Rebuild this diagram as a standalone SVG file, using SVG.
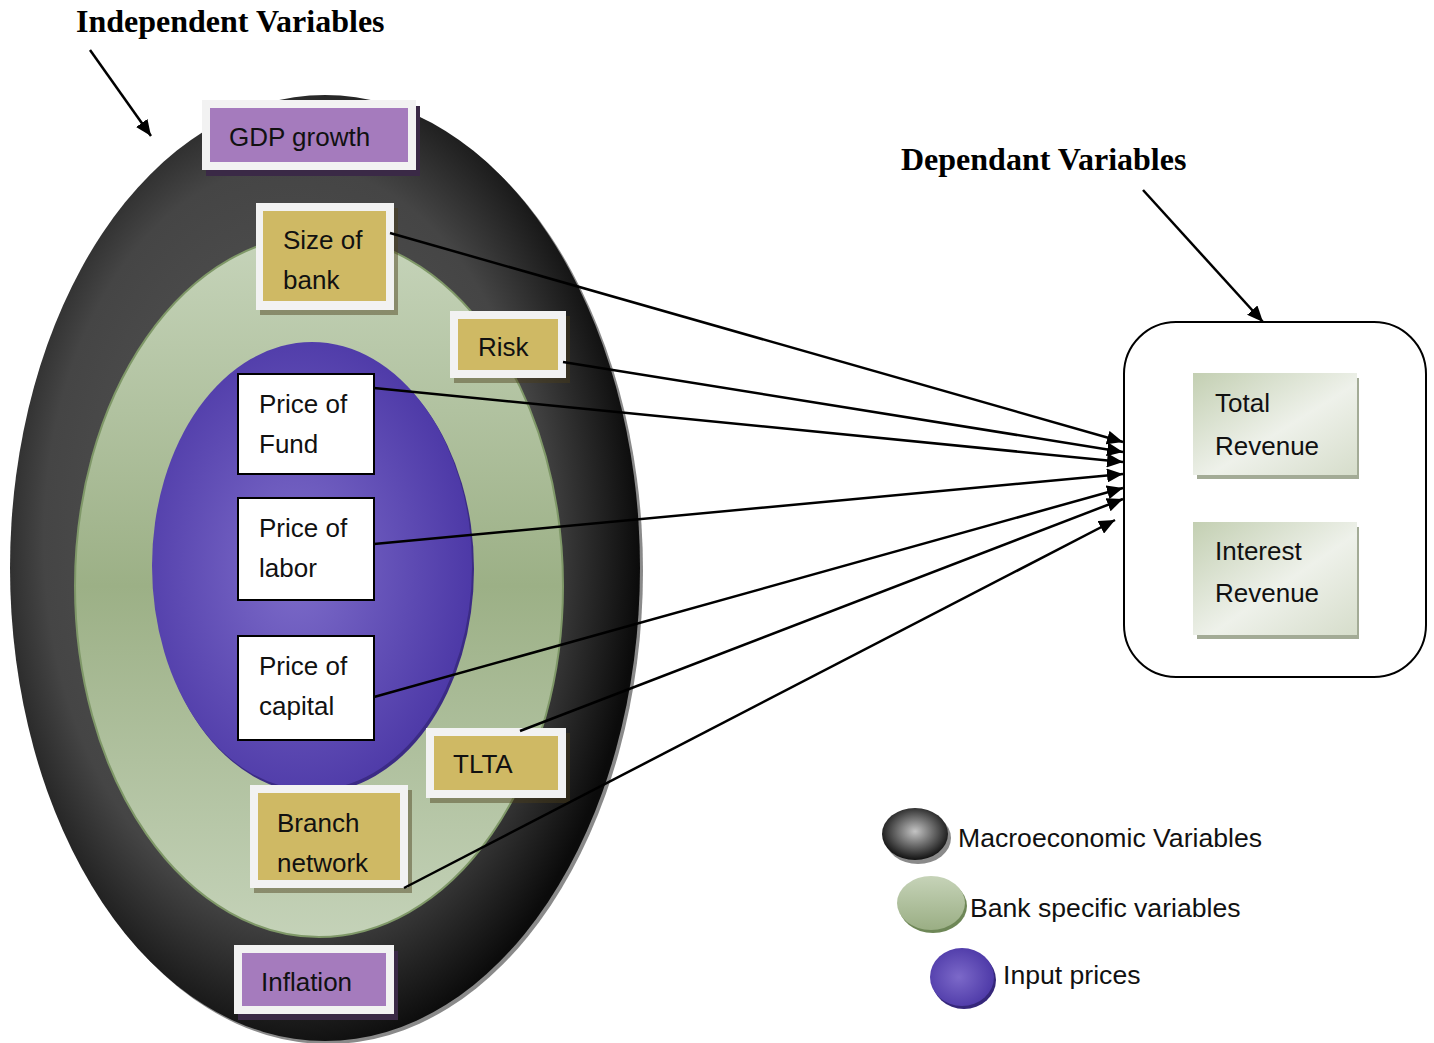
<svg xmlns="http://www.w3.org/2000/svg" width="1434" height="1043" viewBox="0 0 1434 1043">
<defs>
<radialGradient id="gOuter" cx="0.45" cy="0.47" r="0.55">
<stop offset="0" stop-color="#5a5a5a"/>
<stop offset="0.72" stop-color="#454545"/>
<stop offset="1" stop-color="#0b0b0b"/>
</radialGradient>
<linearGradient id="gGreen" x1="0" y1="0" x2="0" y2="1">
<stop offset="0" stop-color="#c6d4ba"/>
<stop offset="0.5" stop-color="#9cb086"/>
<stop offset="1" stop-color="#c4d2b8"/>
</linearGradient>
<radialGradient id="gPurple" cx="0.45" cy="0.5" r="0.55">
<stop offset="0" stop-color="#7e6dca"/>
<stop offset="1" stop-color="#4d39a7"/>
</radialGradient>
<linearGradient id="gRev" x1="0" y1="0" x2="1" y2="1">
<stop offset="0" stop-color="#c3cfb2"/>
<stop offset="0.55" stop-color="#eef1ea"/>
<stop offset="1" stop-color="#d6ddcb"/>
</linearGradient>
<radialGradient id="gLegDark" cx="0.5" cy="0.45" r="0.55">
<stop offset="0" stop-color="#c4c4c4"/>
<stop offset="1" stop-color="#111"/>
</radialGradient>
<linearGradient id="gLegGreen" x1="0" y1="0" x2="0" y2="1">
<stop offset="0" stop-color="#c6d3b8"/>
<stop offset="1" stop-color="#9aae84"/>
</linearGradient>
<radialGradient id="gLegPurple" cx="0.45" cy="0.5" r="0.55">
<stop offset="0" stop-color="#7c69c9"/>
<stop offset="1" stop-color="#4e3aa8"/>
</radialGradient>
<marker id="ah" markerUnits="userSpaceOnUse" markerWidth="17" markerHeight="14" refX="16" refY="7" orient="auto">
<path d="M0,0 L16,7 L0,14 z" fill="#000"/>
</marker>
<style>
.t{font-family:"Liberation Sans",Arial,sans-serif;font-size:26px;fill:#111}
.lg{font-size:26.6px}
.h{font-family:"Liberation Serif","Times New Roman",serif;font-weight:bold;font-size:32px;fill:#000}
.frame{fill:#f2f2f2}
.gold{fill:#cfb964}
.violet{fill:#a57bbd}
.gsh{fill:#4a3c18;opacity:0.45}
.vsh{fill:#3a2946}
.price{fill:#fff;stroke:#000;stroke-width:2}
.rev{fill:url(#gRev)}
.revsh{fill:#a3ab96}
.con{stroke:#000;stroke-width:2.5;fill:none;marker-end:url(#ah)}
</style>
</defs>

<g id="titles">
<text class="h" x="76" y="32">Independent Variables</text>
<text class="h" x="901" y="170">Dependant Variables</text>
</g>

<g id="macro-ellipse">
<ellipse cx="328" cy="571" rx="315" ry="473" fill="#8a8a8a"/>
<ellipse cx="325" cy="568" rx="315" ry="473" fill="url(#gOuter)"/>
</g>
<g id="bank-ellipse">
<ellipse cx="319" cy="586" rx="244" ry="351" fill="url(#gGreen)" stroke="#7f9868" stroke-width="2"/>
</g>
<g id="input-ellipse">
<ellipse cx="314" cy="569" rx="160" ry="224" fill="#3b2b85"/>
<ellipse cx="312" cy="566" rx="160" ry="224" fill="url(#gPurple)"/>
</g>

<g id="gdp">
<rect class="vsh" x="206" y="106" width="214" height="70"/>
<rect class="frame" x="202" y="100" width="214" height="70"/>
<rect class="violet" x="210" y="108" width="198" height="54"/>
<text class="t" x="229" y="146">GDP growth</text>
</g>
<g id="size">
<rect class="gsh" x="260" y="208" width="138" height="107"/>
<rect class="frame" x="256" y="203" width="138" height="107"/>
<rect class="gold" x="263" y="211" width="123" height="90"/>
<text class="t" x="283" y="249">Size of</text>
<text class="t" x="283" y="289">bank</text>
</g>
<g id="risk">
<rect class="gsh" x="454" y="316" width="116" height="67"/>
<rect class="frame" x="450" y="311" width="116" height="67"/>
<rect class="gold" x="458" y="319" width="100" height="51"/>
<text class="t" x="478" y="356">Risk</text>
</g>
<g id="fund">
<rect class="price" x="238" y="374" width="136" height="100"/>
<text class="t" x="259" y="413">Price of</text>
<text class="t" x="259" y="453">Fund</text>
</g>
<g id="labor">
<rect class="price" x="238" y="498" width="136" height="102"/>
<text class="t" x="259" y="537">Price of</text>
<text class="t" x="259" y="577">labor</text>
</g>
<g id="capital">
<rect class="price" x="238" y="636" width="136" height="104"/>
<text class="t" x="259" y="675">Price of</text>
<text class="t" x="259" y="715">capital</text>
</g>
<g id="tlta">
<rect class="gsh" x="430" y="733" width="140" height="70"/>
<rect class="frame" x="426" y="728" width="140" height="70"/>
<rect class="gold" x="434" y="736" width="124" height="54"/>
<text class="t" x="453" y="773">TLTA</text>
</g>
<g id="branch">
<rect class="gsh" x="254" y="790" width="158" height="103"/>
<rect class="frame" x="250" y="785" width="158" height="103"/>
<rect class="gold" x="258" y="793" width="142" height="87"/>
<text class="t" x="277" y="832">Branch</text>
<text class="t" x="277" y="872">network</text>
</g>
<g id="inflation">
<rect class="vsh" x="238" y="951" width="160" height="69"/>
<rect class="frame" x="234" y="945" width="160" height="69"/>
<rect class="violet" x="242" y="953" width="144" height="53"/>
<text class="t" x="261" y="991">Inflation</text>
</g>

<g id="dependent">
<rect x="1124" y="322" width="302" height="355" rx="52" ry="52" fill="#fff" stroke="#000" stroke-width="2"/>
<g id="total">
<rect class="revsh" x="1197" y="378" width="162" height="101"/>
<rect class="rev" x="1193" y="373" width="164" height="102"/>
<text class="t" x="1215" y="412">Total</text>
<text class="t" x="1215" y="455">Revenue</text>
</g>
<g id="interest">
<rect class="revsh" x="1197" y="527" width="162" height="112"/>
<rect class="rev" x="1193" y="522" width="164" height="113"/>
<text class="t" x="1215" y="560">Interest</text>
<text class="t" x="1215" y="602">Revenue</text>
</g>
</g>

<g id="connectors">
<path class="con" d="M90,50 L151,136"/>
<path class="con" d="M1143,190 L1263,322"/>
<path class="con" d="M390,233 L1123,442"/>
<path class="con" d="M563,362 L1123,452"/>
<path class="con" d="M374,388 L1123,462"/>
<path class="con" d="M374,544 L1123,474"/>
<path class="con" d="M374,697 L1123,488"/>
<path class="con" d="M520,731 L1123,499"/>
<path class="con" d="M404,888 L1115,520"/>
</g>

<g id="legend">
<g id="leg-macro">
<ellipse cx="918" cy="838" rx="33" ry="26" fill="#8a8a8a"/>
<ellipse cx="915" cy="834" rx="33" ry="26" fill="url(#gLegDark)"/>
<text class="t lg" x="958" y="847">Macroeconomic Variables</text>
</g>
<g id="leg-bank">
<ellipse cx="933" cy="906" rx="34" ry="27" fill="#6e8757"/>
<ellipse cx="931" cy="903" rx="34" ry="27" fill="url(#gLegGreen)"/>
<text class="t lg" x="970" y="917">Bank specific variables</text>
</g>
<g id="leg-input">
<ellipse cx="964" cy="980" rx="32" ry="29" fill="#35277a"/>
<ellipse cx="962" cy="977" rx="32" ry="29" fill="url(#gLegPurple)"/>
<text class="t lg" x="1003" y="984">Input prices</text>
</g>
</g>
</svg>
